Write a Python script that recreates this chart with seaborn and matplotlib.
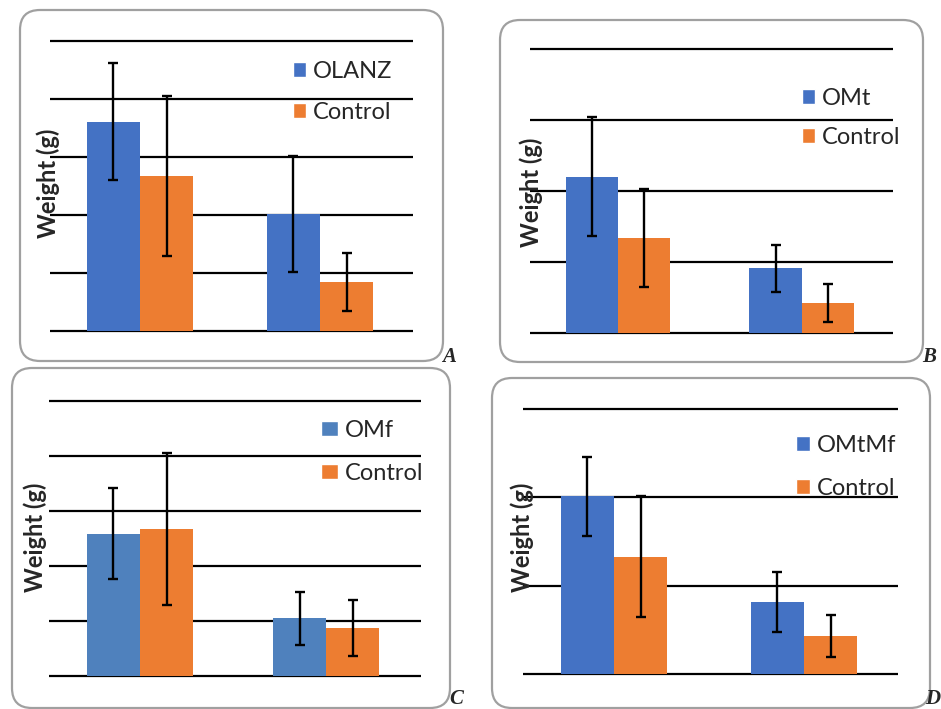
import matplotlib.pyplot as plt
import pandas as pd
import seaborn as sns
from matplotlib.patches import FancyBboxPatch, Patch

# Values read off the gridlines (1 unit = one grid step, the axes have no tick labels)
GROUPS = ['Group 1', 'Group 2']
CONTROL = 'Control'

A_NAME = 'OLANZ'
A_TREAT = [3.61, 2.02]
A_TREAT_ERR = [1.01, 1.00]
A_CTRL = [2.67, 0.84]
A_CTRL_ERR = [1.38, 0.50]

B_NAME = 'OMt'
B_TREAT = [2.20, 0.91]
B_TREAT_ERR = [0.84, 0.33]
B_CTRL = [1.34, 0.42]
B_CTRL_ERR = [0.69, 0.27]

C_NAME = 'OMf'
C_TREAT = [2.59, 1.05]
C_TREAT_ERR = [0.83, 0.48]
C_CTRL = [2.68, 0.88]
C_CTRL_ERR = [1.38, 0.51]

D_NAME = 'OMtMf'
D_TREAT = [2.01, 0.82]
D_TREAT_ERR = [0.45, 0.34]
D_CTRL = [1.33, 0.43]
D_CTRL_ERR = [0.69, 0.24]

BLUE = '#4472C4'
BLUE_C = '#4F81BD'
ORANGE = '#ED7D31'
BOX_GREY = '#A0A0A0'

W, H = 941, 709
PAD = 2  # px kept around the outer gridlines so they are not clipped


def draw_panel(fig, name, treat, treat_err, ctrl, ctrl_err, blue, lay):
    """One rounded-box bar panel; lay holds pixel positions taken from the reference."""
    left, right, ytop, ybase, ymax = lay['axes']
    unit = (ybase - ytop) / ymax
    ax = fig.add_axes([left / W, 1 - (ybase + PAD) / H, (right - left) / W, (ybase - ytop + 2 * PAD) / H])
    ax.set_facecolor('none')

    df = pd.DataFrame({'group': GROUPS * 2,
                       'series': [name] * len(GROUPS) + [CONTROL] * len(GROUPS),
                       'weight': treat + ctrl})
    sns.barplot(data=df, x='group', y='weight', hue='series', palette=[blue, ORANGE], width=lay['width'],
                errorbar=None, legend=False, saturation=1, linewidth=0, ax=ax)
    for container, errs in zip(ax.containers, [treat_err, ctrl_err]):
        xs = [b.get_x() + b.get_width() / 2 for b in container]
        ys = [b.get_height() for b in container]
        ax.errorbar(xs, ys, yerr=errs, fmt='none', ecolor='black', elinewidth=1.7, capsize=3.5, capthick=1.7)

    ax.set_ylim(-PAD / unit, ymax + PAD / unit)
    ax.set_xlim(*lay['xlim'])
    ax.set_yticks(range(ymax + 1))
    ax.yaxis.grid(True, color='black', linewidth=1.6)
    ax.set_axisbelow(True)
    ax.tick_params(length=0, labelleft=False, labelbottom=False)
    ax.set_xlabel('')
    sns.despine(ax=ax, left=True, bottom=True)

    lx, ly = lay['ylabel']
    ax.set_ylabel('Weight (g)', fontsize=17, fontweight='bold', ha='center', va='center')
    ax.yaxis.set_label_coords((lx - left) / (right - left), (ybase + PAD - ly) / (ybase - ytop + 2 * PAD))

    handles = [Patch(facecolor=blue, label=name), Patch(facecolor=ORANGE, label=CONTROL)]
    gx, gy = lay['legend']
    ax.legend(handles=handles, loc='upper left', bbox_to_anchor=(gx / W, 1 - gy / H),
              bbox_transform=fig.transFigure, frameon=False, fontsize=17, handlelength=lay['handle'],
              handleheight=0.62, handletextpad=0.3, labelspacing=lay['spacing'], borderpad=0, borderaxespad=0)
    return ax


sns.set_theme(style='white')
plt.rcParams['font.family'] = ['Lato', 'DejaVu Sans']

fig = plt.figure(figsize=(W / 100, H / 100), dpi=100)
bg = fig.add_axes([0, 0, 1, 1])
bg.set_xlim(0, W)
bg.set_ylim(H, 0)
bg.axis('off')

layouts = {
    'A': dict(box=(20, 10, 443, 361), axes=(50, 413, 41, 331, 5), xlim=(-0.5, 1.517), width=0.59,
              ylabel=(48, 183), legend=(293, 61), handle=0.56, spacing=0.85, letter=(442, 362)),
    'B': dict(box=(500, 20, 923, 362), axes=(530, 893, 49, 333, 4), xlim=(-0.478, 1.495), width=0.57,
              ylabel=(531, 192), legend=(802, 88), handle=0.56, spacing=0.76, letter=(922, 362)),
    'C': dict(box=(12, 368, 450, 708), axes=(49, 421, 401, 676, 5), xlim=(-0.489, 1.51), width=0.57,
              ylabel=(35, 537), legend=(321, 420), handle=0.72, spacing=0.93, letter=(449, 704)),
    'D': dict(box=(492, 378, 930, 708), axes=(523, 898, 409, 674, 3), xlim=(-0.479, 1.495), width=0.56,
              ylabel=(522, 537), legend=(796, 435), handle=0.6, spacing=0.93, letter=(925, 704)),
}

for key, lay in layouts.items():
    x0, y0, x1, y1 = lay['box']
    bg.add_patch(FancyBboxPatch((x0, y0), x1 - x0, y1 - y0, boxstyle='round,pad=0,rounding_size=20',
                                facecolor='white', edgecolor=BOX_GREY, linewidth=1.6))
    tx, ty = lay['letter']
    fig.text(tx / W, 1 - ty / H, key, family='Liberation Serif', fontweight='bold', fontstyle='italic',
             fontsize=15, ha='left', va='baseline')

draw_panel(fig, A_NAME, A_TREAT, A_TREAT_ERR, A_CTRL, A_CTRL_ERR, BLUE, layouts['A'])
draw_panel(fig, B_NAME, B_TREAT, B_TREAT_ERR, B_CTRL, B_CTRL_ERR, BLUE, layouts['B'])
draw_panel(fig, C_NAME, C_TREAT, C_TREAT_ERR, C_CTRL, C_CTRL_ERR, BLUE_C, layouts['C'])
draw_panel(fig, D_NAME, D_TREAT, D_TREAT_ERR, D_CTRL, D_CTRL_ERR, BLUE, layouts['D'])

fig.savefig('out.png', dpi=100)
